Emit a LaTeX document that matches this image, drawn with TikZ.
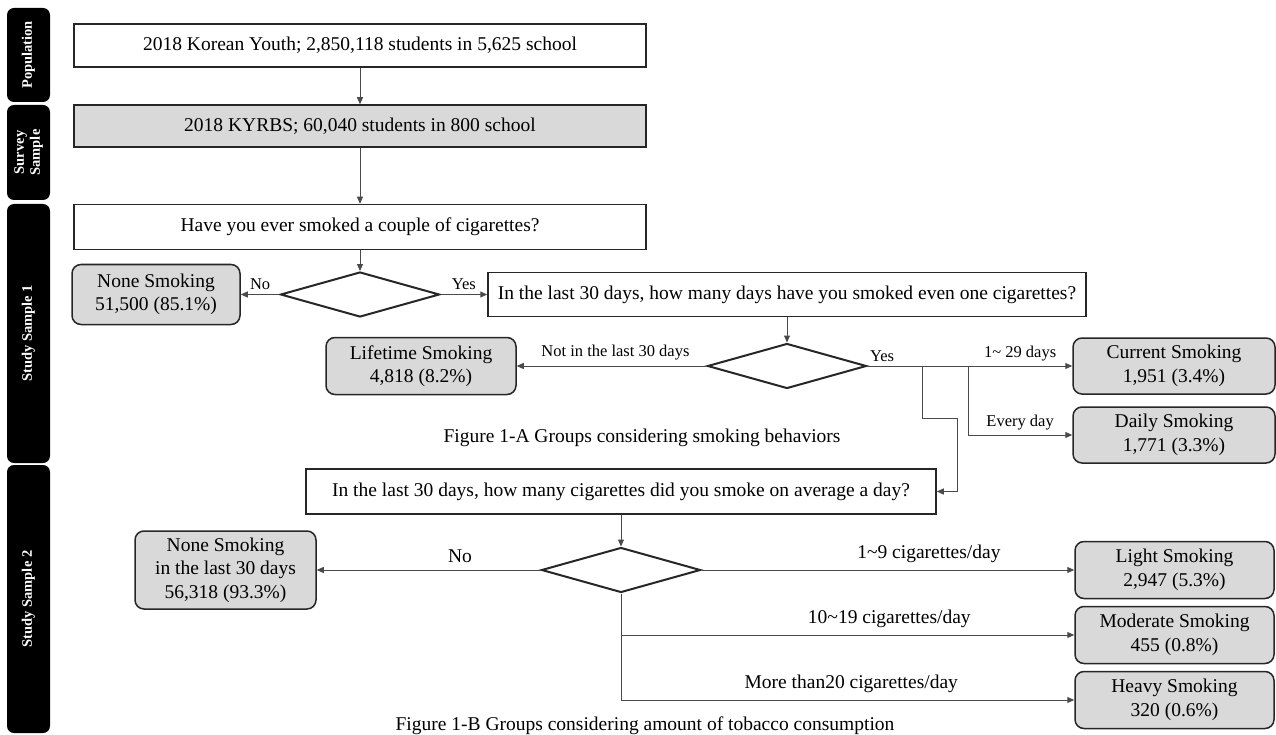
\documentclass[tikz,border=0pt]{standalone}
\usepackage{fontspec}
\setmainfont{Liberation Serif}
\usetikzlibrary{shapes.geometric,arrows.meta,positioning,calc}
\definecolor{boxgray}{HTML}{D9D9D9}
\definecolor{linegray}{HTML}{4A4A4A}
\tikzset{
  sidebar/.style={fill=black, rounded corners=7pt, text=white, rotate=90,
    font=\fontsize{14.5}{16}\selectfont\bfseries, inner sep=0pt, align=center,
    minimum height=43pt},
  stepbox/.style={draw=black!85, line width=1.5pt, inner sep=0pt,
    font=\fontsize{19.5}{23}\selectfont},
  groupbox/.style={stepbox, fill=boxgray, rounded corners=9pt, align=center,
    font=\fontsize{19.5}{23.5}\selectfont},
  decision/.style={diamond, draw=black!85, line width=2pt, inner sep=0pt,
    minimum width=159pt, minimum height=45pt},
  flow/.style={draw=linegray, line width=1pt, -{Triangle[length=7pt,width=6pt]}},
  link/.style={draw=linegray, line width=1pt},
  smalllab/.style={font=\fontsize{16.5}{18}\selectfont, inner sep=1pt},
  biglab/.style={font=\fontsize{19.5}{23}\selectfont, inner sep=1pt},
}
\begin{document}
\begin{tikzpicture}[x=1pt,y=-1pt]
  \useasboundingbox (0,0) rectangle (1276,735);

  % side bars
  \node[sidebar, minimum width=94pt]  (pop)    at (28.5,55)    {Population};
  \node[sidebar, minimum width=95pt]  (survey) at (28.5,152.5) {Survey\\Sample};
  \node[sidebar, minimum width=259pt] (study1) at (28.5,333.5) {Study Sample 1};
  \node[sidebar, minimum width=268pt] (study2) at (28.5,599)   {Study Sample 2};

  % Figure 1-A
  \node[stepbox, minimum width=572pt, minimum height=43pt] (popbox) at (360,45.5)
    {2018 Korean Youth; 2,850,118 students in 5,625 school};
  \node[stepbox, fill=boxgray, minimum width=572pt, minimum height=42pt] (kyrbs) at (360,126)
    {2018 KYRBS; 60,040 students in 800 school};
  \node[stepbox, minimum width=572pt, minimum height=45pt] (ever) at (360,227)
    {Have you ever smoked a couple of cigarettes?};
  \node[decision] (d1) at (360,294.5) {};
  \node[groupbox, minimum width=168pt, minimum height=60pt] (none) at (156,294.5)
    {None Smoking\\51,500 (85.1\%)};
  \node[stepbox, minimum width=598pt, minimum height=44pt] (days) at (787,294.5)
    {In the last 30 days, how many days have you smoked even one cigarettes?};
  \node[decision] (d2) at (787,366) {};
  \node[groupbox, minimum width=190pt, minimum height=57pt] (life) at (421,366)
    {Lifetime Smoking\\4,818 (8.2\%)};
  \node[groupbox, minimum width=202pt, minimum height=56pt] (current) at (1174,366)
    {Current Smoking\\1,951 (3.4\%)};
  \node[groupbox, minimum width=202pt, minimum height=56pt] (daily) at (1174,435)
    {Daily Smoking\\1,771 (3.3\%)};
  \node[biglab] (capA) at (642,438) {Figure 1-A Groups considering smoking behaviors};

  \coordinate (b1) at (922,366);
  \coordinate (b2) at (968,366);
  \coordinate (turn) at (957,418);

  \draw[flow] (popbox) -- (kyrbs);
  \draw[flow] (kyrbs) -- (ever);
  \draw[flow] (ever) -- (d1);
  \draw[flow] (d1) -- node[smalllab, above=3pt]{No} (none);
  \draw[flow] (d1) -- node[smalllab, above=3pt]{Yes} (days);
  \draw[flow] (days) -- (d2);
  \draw[flow] (d2) -- node[smalllab, above=4pt, pos=0.48]{Not in the last 30 days} (life);
  \draw[link] (d2) -- node[smalllab, above right=3pt and 1pt, pos=0]{Yes} (b2);
  \draw[flow] (b2) -- node[smalllab, above=3pt]{1\textasciitilde{} 29 days} (current);
  \draw[flow] (b2) |- node[smalllab, above=3pt, pos=0.75]{Every day} (daily);

  % Figure 1-B
  \node[stepbox, minimum width=630pt, minimum height=45pt] (cigs) at (621,491.5)
    {In the last 30 days, how many cigarettes did you smoke on average a day?};
  \draw[flow] (b1) |- (turn) |- (cigs);
  \node[decision] (d3) at (621,570) {};
  \node[groupbox, minimum width=181pt, minimum height=78pt] (none30) at (225.5,570)
    {None Smoking\\in the last 30 days\\56,318 (93.3\%)};
  \node[groupbox, minimum width=199pt, minimum height=57pt] (light) at (1174.5,570)
    {Light Smoking\\2,947 (5.3\%)};
  \node[groupbox, minimum width=199pt, minimum height=57pt] (moderate) at (1174.5,635)
    {Moderate Smoking\\455 (0.8\%)};
  \node[groupbox, minimum width=199pt, minimum height=57pt] (heavy) at (1174.5,700)
    {Heavy Smoking\\320 (0.6\%)};
  \node[biglab] (capB) at (645,726) {Figure 1-B Groups considering amount of tobacco consumption};

  \draw[flow] (cigs) -- (d3);
  \draw[flow] (d3) -- node[biglab, above=6pt, pos=0.36]{No} (none30);
  \draw[flow] (d3) -- node[biglab, above=6pt, pos=0.61]{1\textasciitilde 9 cigarettes/day} (light);
  \draw[flow] (d3.south) |- node[biglab, above=6pt, pos=0.796]{10\textasciitilde 19 cigarettes/day} (moderate);
  \draw[flow] (d3.south) |- node[biglab, above=6pt, pos=0.754]{More than20 cigarettes/day} (heavy);
\end{tikzpicture}
\end{document}
